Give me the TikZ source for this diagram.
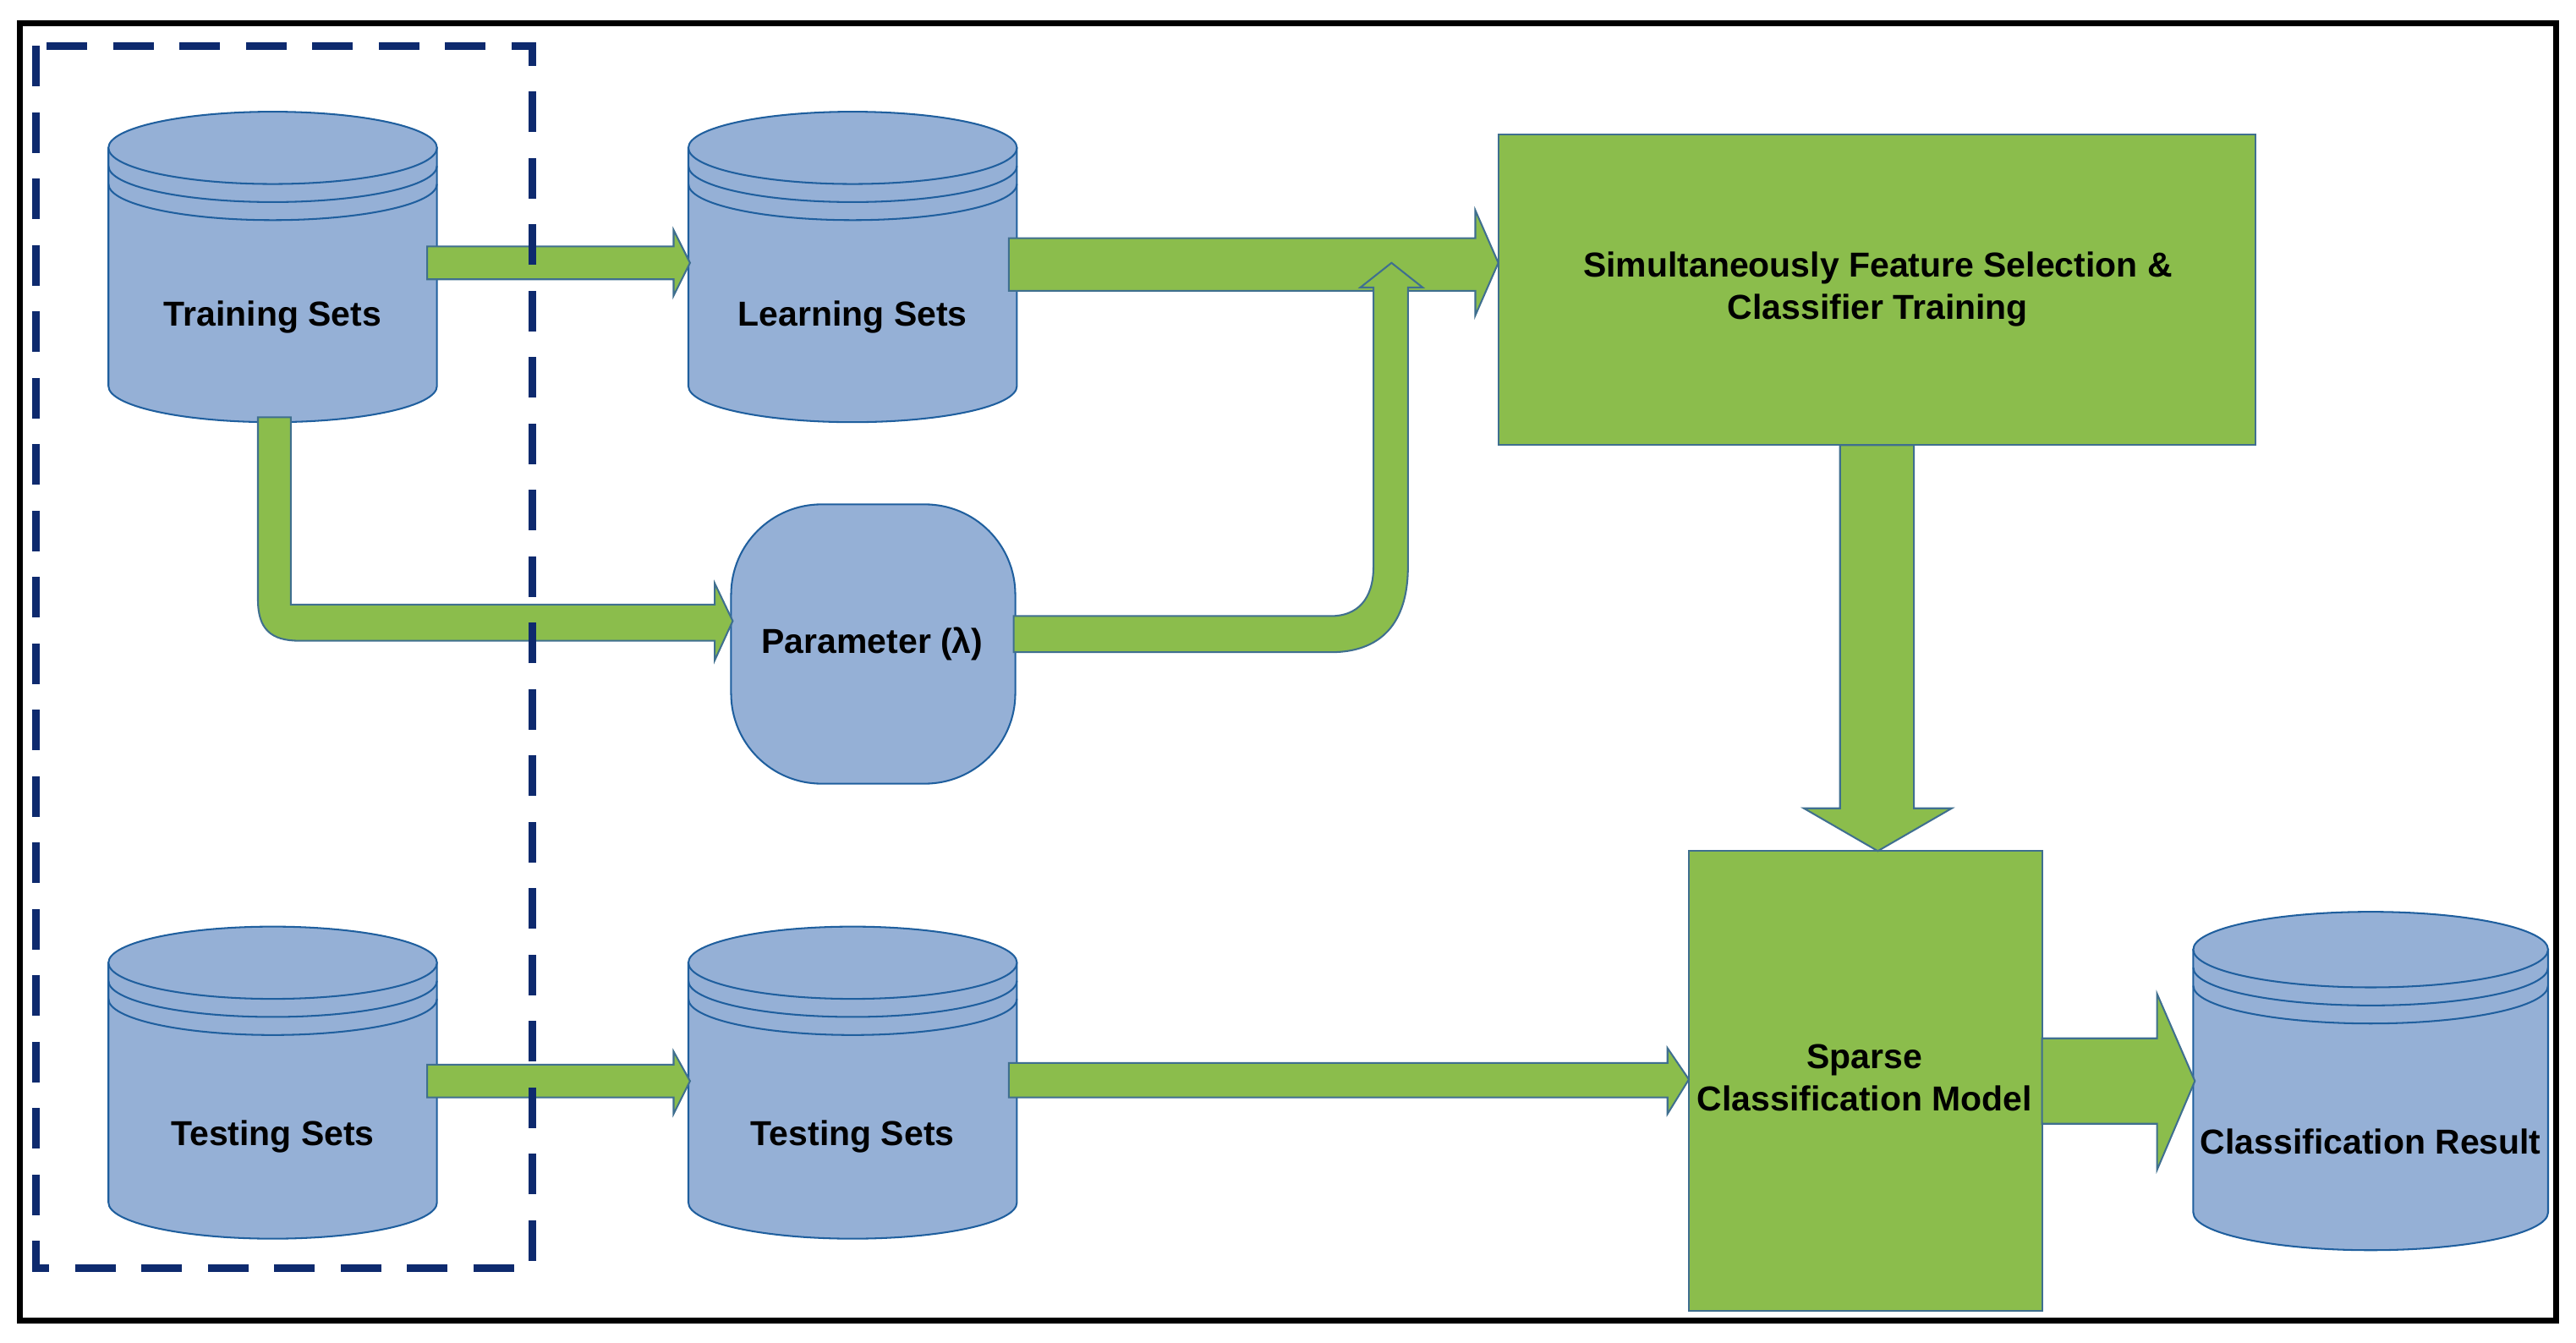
\documentclass[tikz,border=0pt]{standalone}
\usepackage{fontspec}
\setmainfont{Liberation Sans}
\begin{document}
\begin{tikzpicture}[x=0.02cm,y=-0.02cm,
  cyl/.style={fill=cylblue,draw=cylline,line width=0.6pt},
  grn/.style={fill=grn,draw=grnline,line width=0.6pt},
  lbl/.style={font=\fontsize{12}{14.5}\selectfont\bfseries,align=center,text=black}]
\definecolor{cylblue}{HTML}{95B0D6}
\definecolor{cylline}{HTML}{1F5F9E}
\definecolor{grn}{HTML}{8BBD4C}
\definecolor{grnline}{HTML}{3F6F8F}
\definecolor{dashblue}{HTML}{0E2A6E}
\fill[white] (0,0) rectangle (1568,817);
\useasboundingbox (0,0) rectangle (1568,817);
\newcommand\mycyl[7]{%
 \begin{scope}[shift={(#2,#3)}]
  \draw[cyl] (-#5cm,0) -- (-#5cm,-#4cm) arc[start angle=180,end angle=360,x radius=#5cm,y radius=#6cm] -- (#5cm,0) -- cycle;
  \draw[cyl] (0,0) ellipse[x radius=#5cm,y radius=#6cm];
  \draw[cylline,line width=0.6pt] (-#5cm,-0.22cm) arc[start angle=180,end angle=360,x radius=#5cm,y radius=#6cm];
  \draw[cylline,line width=0.6pt] (-#5cm,-0.44cm) arc[start angle=180,end angle=360,x radius=#5cm,y radius=#6cm];
  \node[lbl] (#1) at (0,-#7cm) {#1};
 \end{scope}}
% frame
\draw[black,line width=2pt] (12,14) rectangle (1556,804);
% cylinders
\begin{scope}
\mycyl{Training Sets}{166}{90}{2.9}{2}{0.44}{2.06}
\mycyl{Learning Sets}{519}{90}{2.9}{2}{0.44}{2.06}
\end{scope}
\begin{scope}[shift={(0,0)}]
\mycyl{Testing Sets}{166}{586}{2.92}{2}{0.44}{2.12}
\end{scope}
\begin{scope}[shift={(353,0)}]
\mycyl{Testing Sets}{166}{586}{2.92}{2}{0.44}{2.12}
\end{scope}
\mycyl{Classification Result}{1443}{578}{3.2}{2.16}{0.46}{2.34}
% parameter
\draw[cyl,rounded corners=1.1cm] (445,307) rectangle (618,477);
\node[lbl] (param) at (531,392) {Parameter (λ)};
% boxes
\draw[grn] (912,82) rectangle (1373,271);
\node[lbl] (sfs) at (1143,176) {{Simultaneously Feature Selection \&}\\{Classifier Training}};
\draw[grn] (1028,518) rectangle (1243,798);
\node[lbl] (scm) at (1135,656) {Sparse\\Classification Model};
% arrows
\draw[grn] (260,150) -- (410,150) -- (410,140) -- (420,160) -- (410,180) -- (410,170) -- (260,170) -- cycle;
\draw[grn] (614,145) -- (898,145) -- (898,128) -- (912,160) -- (898,192) -- (898,177) -- (614,177) -- cycle;
\draw[grn] (617,375) -- (810,375) .. controls (826,375) and (836,365) .. (836,345) -- (836,175) -- (828,175) -- (847,160) -- (866,175) -- (857,175) -- (857,345) .. controls (857,380) and (840,397) .. (810,397) -- (617,397) -- cycle;
\draw[grn] (157,254) -- (157,365) .. controls (157,383) and (165,390) .. (182,390) -- (435,390) -- (435,402) -- (446,378) -- (435,355) -- (435,368) -- (177,368) -- (177,254) -- cycle;
\draw[grn] (1120,271) -- (1120,492) -- (1098,492) -- (1143,518) -- (1188,492) -- (1165,492) -- (1165,271) -- cycle;
\draw[grn] (260,648) -- (410,648) -- (410,640) -- (420,658) -- (410,678) -- (410,668) -- (260,668) -- cycle;
\draw[grn] (614,647) -- (1015,647) -- (1015,638) -- (1028,657) -- (1015,678) -- (1015,668) -- (614,668) -- cycle;
\draw[grn] (1243,632) -- (1313,632) -- (1313,605) -- (1336,658) -- (1313,712) -- (1313,684) -- (1243,684) -- cycle;
% dashed box
\draw[dashblue,line width=2.5pt,dash pattern=on 14pt off 9pt] (22,28) rectangle (324,772);
\end{tikzpicture}
\end{document}
